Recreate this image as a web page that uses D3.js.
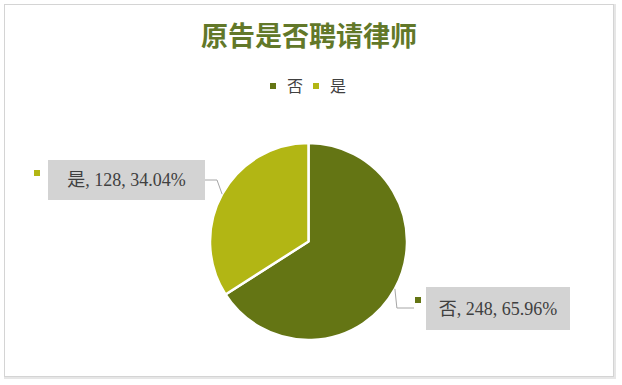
<!DOCTYPE html>
<html>
<head>
<meta charset="utf-8">
<script src="https://cdn.jsdelivr.net/npm/d3@7"></script>
<style>
  body { margin: 0; background: #fff; }
  svg { display: block; }
</style>
</head>
<body>
<div id="chart"></div>
<script>
// data
var categories = ["否", "是"];
var counts = [248, 128];
var colors = ["#647514", "#b2b614"];
var title = "原告是否聘请律师";

var width = 622, height = 385;
var total = d3.sum(counts);
var data = categories.map(function (c, i) {
  return { name: c, value: counts[i], color: colors[i] };
});

var svg = d3.select("#chart").append("svg")
  .attr("width", width)
  .attr("height", height);

// chart frame
svg.append("rect")
  .attr("x", 5).attr("y", 5)
  .attr("width", 610).attr("height", 373)
  .attr("fill", "none")
  .attr("stroke", "#e6e6e6")
  .attr("stroke-width", 2);
svg.append("rect")
  .attr("x", 4.5).attr("y", 4.5)
  .attr("width", 609).attr("height", 372)
  .attr("fill", "#fff")
  .attr("stroke", "#d4d4d4");

svg.append("text")
  .attr("x", 309).attr("y", 46)
  .attr("text-anchor", "middle")
  .attr("font-family", "'Noto Sans CJK SC', sans-serif")
  .attr("font-weight", "bold")
  .attr("font-size", 27)
  .attr("fill", "#627829")
  .text(title);

// legend
var legend = svg.append("g").attr("transform", "translate(270,86)");
var lx = 0;
data.forEach(function (d) {
  legend.append("rect")
    .attr("x", lx).attr("y", -3)
    .attr("width", 6).attr("height", 6)
    .attr("fill", d.color);
  legend.append("text")
    .attr("x", lx + 17).attr("y", 6)
    .attr("font-family", "'Noto Sans CJK SC', serif")
    .attr("font-size", 16)
    .attr("fill", "#404040")
    .text(d.name);
  lx += 43;
});

// pie
var cx = 308.5, cy = 241.5, r = 98.5;
var pie = d3.pie().sort(null).value(function (d) { return d.value; });
var arc = d3.arc().innerRadius(0).outerRadius(r);
var arcs = pie(data);

var g = svg.append("g").attr("transform", "translate(" + cx + "," + cy + ")");
g.selectAll("path")
  .data(arcs)
  .enter()
  .append("path")
  .attr("d", arc)
  .attr("fill", function (d) { return d.data.color; })
  .attr("stroke", "#fff")
  .attr("stroke-width", 2.5)
  .attr("stroke-linejoin", "round");

// labels: box position per slice (left / right of the pie)
var boxes = [
  { x: 426, y: 287, w: 144, h: 43 },
  { x: 48, y: 160, w: 157, h: 40 }
];

arcs.forEach(function (a, i) {
  var mid = (a.startAngle + a.endAngle) / 2;
  var px = cx + r * Math.sin(mid), py = cy - r * Math.cos(mid);
  var b = boxes[i];
  var pct = (a.data.value / total * 100).toFixed(2);

  var line = [];
  if (b.x > cx) {
    // right side: down then across to marker
    line = [[px, py], [px + 2, b.y + 21], [b.x - 12, b.y + 21]];
  } else {
    line = [[px, py], [b.x + b.w + 12, b.y + 20], [b.x + b.w, b.y + 20]];
  }
  svg.append("path")
    .attr("d", d3.line()(line))
    .attr("fill", "none")
    .attr("stroke", "#a6a6a6")
    .attr("stroke-width", 1);

  svg.append("rect")
    .attr("x", b.x).attr("y", b.y)
    .attr("width", b.w).attr("height", b.h)
    .attr("fill", "#d3d3d3");

  var mx = b.x > cx ? b.x - 11 : 34;
  var my = b.x > cx ? b.y + 10 : 170;
  svg.append("rect")
    .attr("x", mx).attr("y", my)
    .attr("width", 6).attr("height", 6)
    .attr("fill", a.data.color);

  var t = svg.append("text")
    .attr("x", b.x + b.w / 2).attr("y", b.y + b.h / 2 + 6)
    .attr("text-anchor", "middle")
    .attr("font-family", "'Liberation Serif', 'Noto Sans CJK SC', serif")
    .attr("font-size", 18)
    .attr("fill", "#404040");
  t.text(a.data.name + ", " + a.data.value + ", " + pct + "%");
});
</script>
</body>
</html>
